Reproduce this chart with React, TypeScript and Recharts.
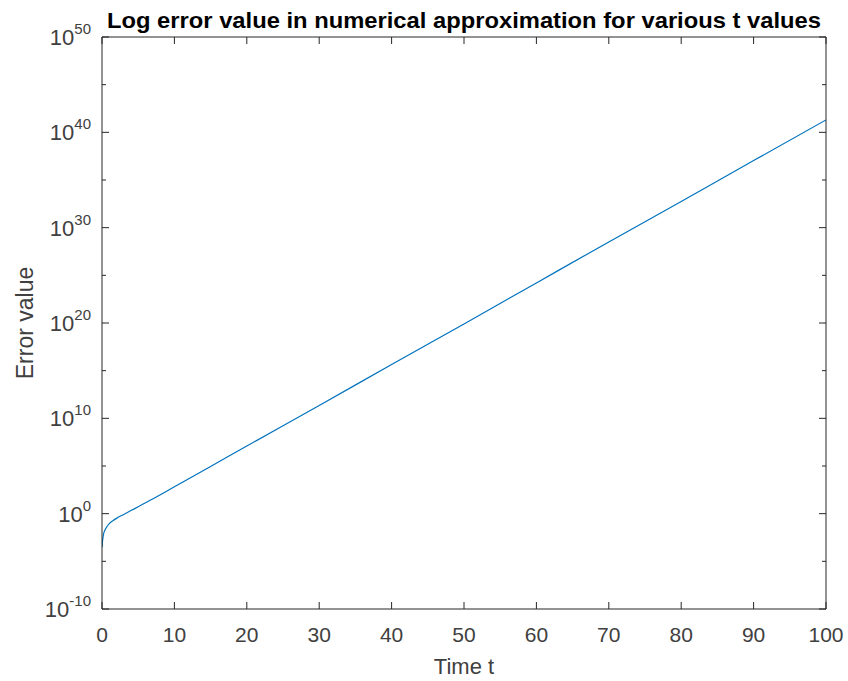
import { LineChart, Line, XAxis, YAxis } from "recharts";

const times = [0.02, 0.05, 0.1, 0.2, 0.4, 0.7, 1, 1.5, 2, 3, 4, 5, 7, 10, 15, 20, 30, 40, 50, 60, 70, 80, 90, 100];
const errorValues = [
  3e-4, 8e-4, 2e-3, 6.3e-3, 1.8e-2, 4.5e-2, 8.9e-2, 0.18, 0.32, 0.83, 2.1, 5.2, 35, 660,
  8.9e4, 1.26e7, 2.2e11, 4.5e15, 7.9e19, 1.6e24, 3.2e28, 5.6e32, 1.1e37, 2e41,
];
const xTicks = [0, 10, 20, 30, 40, 50, 60, 70, 80, 90, 100];
const yTicks = [1e-10, 1e-5, 1, 1e5, 1e10, 1e15, 1e20, 1e25, 1e30, 1e35, 1e40, 1e45, 1e50];

const chartData = times.map((t, i) => ({ t, err: errorValues[i] }));

const AXIS = "#262626";
const TEXT = "#404040";
const FONT = "'Liberation Sans', Arial, Helvetica, sans-serif";

const isMajor = (v: number) => Math.round(Math.log10(v)) % 10 === 0;

const LeftTick = (props: any) => {
  const { x, y, payload } = props;
  const exp = Math.round(Math.log10(payload.value));
  const major = isMajor(payload.value);
  return (
    <g>
      <line x1={x} y1={y} x2={x + (major ? 7 : 4)} y2={y} stroke={AXIS} strokeWidth={1} />
      {major && (
        <text x={x - 11} y={y + 8} textAnchor="end" fill={TEXT} fontFamily={FONT} fontSize={22}>
          10
          <tspan dy={-11} fontSize={15}>{exp}</tspan>
        </text>
      )}
    </g>
  );
};

const RightTick = (props: any) => {
  const { x, y, payload } = props;
  const major = isMajor(payload.value);
  return <line x1={x} y1={y} x2={x - (major ? 7 : 4)} y2={y} stroke={AXIS} strokeWidth={1} />;
};

const BottomTick = (props: any) => {
  const { x, y, payload } = props;
  return (
    <g>
      <line x1={x} y1={y} x2={x} y2={y - 7} stroke={AXIS} strokeWidth={1} />
      <text x={x} y={y + 33} textAnchor="middle" fill={TEXT} fontFamily={FONT} fontSize={21}>
        {payload.value}
      </text>
    </g>
  );
};

const TopTick = (props: any) => {
  const { x, y } = props;
  return <line x1={x} y1={y} x2={x} y2={y + 7} stroke={AXIS} strokeWidth={1} />;
};

export default function App() {
  return (
    <div style={{ position: "absolute", left: 0, top: 0, width: 848, height: 681, background: "#fff" }}>
      <LineChart
        width={848}
        height={681}
        data={chartData}
        margin={{ top: 36, right: 21, bottom: 32, left: 42 }}
      >
        <text
          x={464}
          y={28}
          textAnchor="middle"
          fill="#000"
          fontFamily={FONT}
          fontSize={22}
          fontWeight="bold"
          textLength={714}
          lengthAdjust="spacingAndGlyphs"
        >
          Log error value in numerical approximation for various t values
        </text>
        <XAxis
          xAxisId="bottom"
          dataKey="t"
          type="number"
          domain={[0, 100]}
          ticks={xTicks}
          allowDataOverflow
          height={40}
          tickSize={0}
          tickMargin={0}
          tickLine={false}
          axisLine={{ stroke: AXIS, strokeWidth: 1 }}
          tick={<BottomTick />}
          label={{ value: "Time t", position: "insideBottom", offset: -25, fill: TEXT, fontSize: 22, fontFamily: FONT }}
        />
        <XAxis
          xAxisId="top"
          orientation="top"
          dataKey="t"
          type="number"
          domain={[0, 100]}
          ticks={xTicks}
          allowDataOverflow
          height={1}
          tickSize={0}
          tickMargin={0}
          tickLine={false}
          axisLine={{ stroke: AXIS, strokeWidth: 1 }}
          tick={<TopTick />}
        />
        <YAxis
          yAxisId="left"
          scale="log"
          type="number"
          domain={[1e-10, 1e50]}
          ticks={yTicks}
          allowDataOverflow
          width={60}
          tickSize={0}
          tickMargin={0}
          tickLine={false}
          axisLine={{ stroke: AXIS, strokeWidth: 1 }}
          tick={<LeftTick />}
          label={{ value: "Error value", angle: -90, position: "insideLeft", offset: -17, fill: TEXT, fontSize: 23, fontFamily: FONT, style: { textAnchor: "middle" } }}
        />
        <YAxis
          yAxisId="right"
          orientation="right"
          scale="log"
          type="number"
          domain={[1e-10, 1e50]}
          ticks={yTicks}
          allowDataOverflow
          width={1}
          tickSize={0}
          tickMargin={0}
          tickLine={false}
          axisLine={{ stroke: AXIS, strokeWidth: 1 }}
          tick={<RightTick />}
        />
        <Line
          xAxisId="top"
          yAxisId="right"
          dataKey="err"
          stroke="none"
          dot={false}
          isAnimationActive={false}
        />
        <Line
          xAxisId="bottom"
          yAxisId="left"
          dataKey="err"
          type="monotone"
          stroke="#0072BD"
          strokeWidth={1.2}
          dot={false}
          isAnimationActive={false}
        />
      </LineChart>
    </div>
  );
}
